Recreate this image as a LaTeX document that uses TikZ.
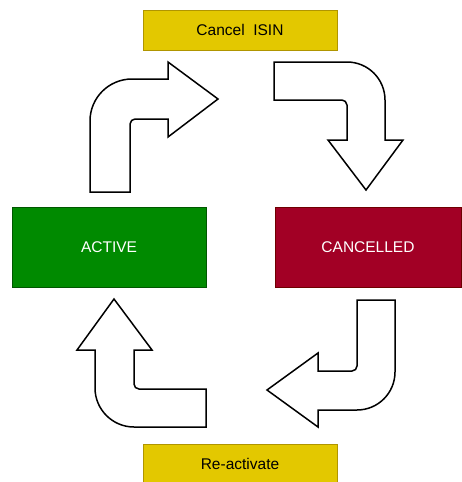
\documentclass[tikz,border=0pt]{standalone}
\usepackage{fontspec}
\setmainfont{Liberation Sans}
\definecolor{ylwfill}{HTML}{E3C800}
\definecolor{ylwline}{HTML}{B09500}
\definecolor{grnfill}{HTML}{008A00}
\definecolor{grnline}{HTML}{005700}
\definecolor{redfill}{HTML}{A20025}
\definecolor{redline}{HTML}{6F0000}
\tikzset{
  box/.style={rectangle, minimum width=194pt, minimum height=40pt, inner sep=0pt, line width=0.8pt, font=\fontsize{15.5}{18}\selectfont},
  actionbox/.style={box, fill=ylwfill, draw=ylwline, text=black},
  statebox/.style={box, minimum height=80pt, text=white},
  bigarrow/.style={draw=black, fill=white, line width=1.5pt, line join=miter}
}
\begin{document}
\begin{tikzpicture}[x=1pt,y=-1pt]
\useasboundingbox (0,0) rectangle (461,482);
\node[actionbox] (cancel) at (240,30) {Cancel\ \ ISIN};
\node[actionbox] (react) at (240,464) {Re-activate};
\node[statebox, minimum width=194pt, fill=grnfill, draw=grnline] (active) at (109,247) {ACTIVE};
\node[statebox, minimum width=186pt, fill=redfill, draw=redline] (cancelled) at (368,247) {CANCELLED};
% top-left arrow
\draw[bigarrow] (90,192) -- (130,192) -- (130,124)
  .. controls (130,121.2) and (132.8,119) .. (135,119)
  -- (168,119) -- (168,137) -- (218,99) -- (168,62) -- (168,79) -- (132,79)
  .. controls (108.8,79) and (90,97.8) .. (90,121) -- cycle;
% top-right arrow
\draw[bigarrow] (274,62) -- (347,62)
  .. controls (368,62) and (385,79) .. (385,100)
  -- (385,140) -- (403,140) -- (366,190) -- (328,140) -- (347,140) -- (347,105)
  .. controls (347,102.2) and (344.2,100) .. (342,100)
  -- (274,100) -- cycle;
% bottom-right arrow
\draw[bigarrow] (357,300) -- (395,300) -- (395,372)
  .. controls (395,393) and (378,410) .. (357,410)
  -- (318,410) -- (318,427) -- (267,390) -- (318,353) -- (318,371) -- (352,371)
  .. controls (354.8,371) and (357,368.8) .. (357,366) -- cycle;
% bottom-left arrow
\draw[bigarrow] (114,299) -- (152,350) -- (134,350) -- (134,384)
  .. controls (134,386.8) and (136.2,389) .. (139,389)
  -- (206,389) -- (206,427) -- (134,427)
  .. controls (112.5,427) and (95,409.5) .. (95,388)
  -- (95,350) -- (77,350) -- cycle;
\end{tikzpicture}
\end{document}
